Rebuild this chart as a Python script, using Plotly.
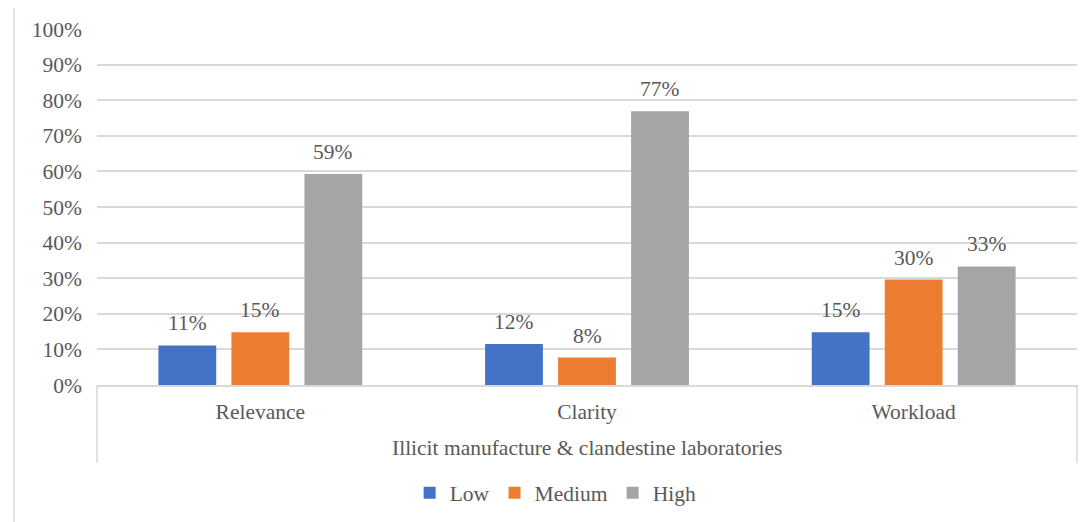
import plotly.graph_objects as go

# Daten
kategorien = ["Relevance", "Clarity", "Workload"]
gruppe = "Illicit manufacture & clandestine laboratories"
serien = ["Low", "Medium", "High"]
low = [0.111, 0.115, 0.148]
medium = [0.148, 0.077, 0.296]
high = [0.593, 0.769, 0.333]
y_ticks = [0, 0.1, 0.2, 0.3, 0.4, 0.5, 0.6, 0.7, 0.8, 0.9, 1.0]

FONT = "Liberation Serif, Times New Roman, serif"
GROESSE = 21.5
GRAU = "#595959"
LINIE = "#d9d9d9"
farben = ["#4472c4", "#ed7d31", "#a5a5a5"]

# Balkenbreite / Abstand innerhalb einer Kategorie (Kategoriebreite = 1)
breite = 0.177
schritt = 0.2235

schrift = dict(family=FONT, size=GROESSE, color=GRAU)

fig = go.Figure()
for k, (name, werte) in enumerate(zip(serien, [low, medium, high])):
    versatz = (k - 1) * schritt
    fig.add_trace(go.Bar(
        x=kategorien, y=werte, name=name, marker_color=farben[k],
        marker_line_width=0, width=breite, offset=versatz - breite / 2,
    ))
    # Datenbeschriftungen etwas über dem Balken
    for i, v in enumerate(werte):
        fig.add_annotation(
            x=i + versatz, y=v, xref="x", yref="y", text=f"{v:.0%}",
            showarrow=False, yanchor="bottom", yshift=8, font=schrift,
        )

# Gruppentitel unter der Kategorieachse
fig.add_annotation(
    x=0.5, y=-0.177, xref="paper", yref="paper", text=gruppe,
    showarrow=False, font=schrift, yanchor="middle",
)

# Rahmen der Kategorieachse (links und rechts)
for xp in [0, 1]:
    fig.add_shape(type="line", xref="paper", yref="paper",
                  x0=xp, x1=xp, y0=0, y1=-0.219,
                  line=dict(color=LINIE, width=1.5))

# Rahmen um das ganze Diagramm
fig.add_shape(type="rect", xref="paper", yref="paper",
              x0=-0.0847, x1=1.03, y0=-0.42, y1=1.073,
              line=dict(color=LINIE, width=1.5))

# Seite hat 8px Rand -> Figur entsprechend kleiner
fig.update_layout(
    width=1084, height=514,
    margin=dict(l=89, r=15, t=21, b=137, autoexpand=False),
    plot_bgcolor="white", paper_bgcolor="white",
    barmode="overlay",
    font=schrift,
    showlegend=True,
    legend=dict(orientation="h", x=0.468, xanchor="center",
                y=-0.303, yanchor="middle", font=schrift,
                itemwidth=30, traceorder="normal"),
    xaxis=dict(showgrid=False, showline=True, linecolor=LINIE,
               linewidth=1.5, ticks="", ticklabelstandoff=6,
               range=[-0.5, 2.5], automargin=False, tickfont=schrift),
    yaxis=dict(range=[0, 1], tickvals=y_ticks, tickformat=".0%",
               showgrid=True, gridcolor=LINIE, gridwidth=1.5,
               zeroline=False, showline=False, ticks="",
               ticklabelstandoff=14, automargin=False, tickfont=schrift),
)

fig.write_html("out.html")
